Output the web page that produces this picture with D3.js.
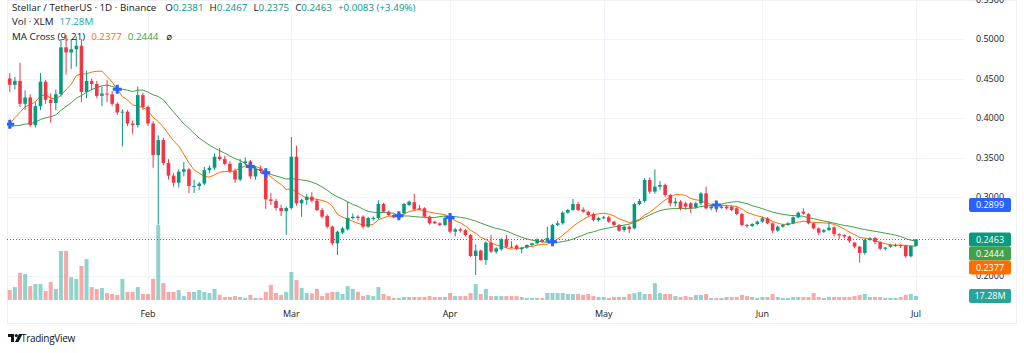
<!DOCTYPE html>
<html>
<head>
<meta charset="utf-8">
<script src="https://cdn.jsdelivr.net/npm/d3@7"></script>
<style>
  html, body { margin: 0; padding: 0; background: #fff; }
  svg { display: block; font-family: "Open Sans", "Noto Sans", sans-serif; }
</style>
</head>
<body>
<div id="chart"></div>
<script>
// XLM / USDT daily candles, 5 Jan - 1 Jul 2025
const firstDay = Date.UTC(2025, 0, 5);

const opens = [
  0.450, 0.442, 0.447, 0.418, 0.426, 0.391, 0.415, 0.446, 0.423, 0.419,
  0.430, 0.4895, 0.483, 0.487, 0.4915, 0.433, 0.447, 0.443, 0.428, 0.431,
  0.430, 0.418, 0.407, 0.408, 0.393, 0.391, 0.429, 0.414, 0.393, 0.353,
  0.372, 0.343, 0.327, 0.318, 0.332, 0.335, 0.314, 0.314, 0.317, 0.334,
  0.337, 0.351, 0.348, 0.342, 0.333, 0.322, 0.343, 0.345, 0.326, 0.336,
  0.333, 0.297, 0.295, 0.286, 0.282, 0.286, 0.351, 0.292, 0.2962, 0.3004,
  0.2954, 0.2835, 0.2759, 0.2624, 0.2414, 0.2549, 0.2591, 0.2734, 0.2751, 0.2751,
  0.2624, 0.2720, 0.2734, 0.2911, 0.2814, 0.2772, 0.2734, 0.2793, 0.2899, 0.2933,
  0.2857, 0.2857, 0.2751, 0.2688, 0.2667, 0.2646, 0.2760, 0.2561, 0.2591, 0.2580,
  0.2519, 0.2253, 0.2321, 0.2203, 0.2422, 0.2308, 0.2338, 0.2464, 0.2371, 0.2385,
  0.2340, 0.2358, 0.2392, 0.2414, 0.2456, 0.2435, 0.2448, 0.2646, 0.2667, 0.2802,
  0.2835, 0.2911, 0.2840, 0.2814, 0.2785, 0.2709, 0.2734, 0.2743, 0.2688, 0.2646,
  0.2582, 0.2624, 0.2603, 0.2911, 0.2949, 0.3215, 0.3068, 0.3131, 0.3152, 0.3025,
  0.2920, 0.2941, 0.2920, 0.2920, 0.2870, 0.2920, 0.3046, 0.2857, 0.2878, 0.2862,
  0.2878, 0.2878, 0.2857, 0.2785, 0.2646, 0.2633, 0.2658, 0.2688, 0.2730, 0.2667,
  0.2574, 0.2624, 0.2646, 0.2667, 0.2743, 0.2814, 0.2785, 0.2667, 0.2603, 0.2560,
  0.2582, 0.2616, 0.2530, 0.2519, 0.2500, 0.2422, 0.2371, 0.2292, 0.2456, 0.2481,
  0.2430, 0.2345, 0.2371, 0.2380, 0.2392, 0.2380, 0.2250, 0.2381
];

const highs = [
  0.457, 0.452, 0.470, 0.435, 0.430, 0.420, 0.457, 0.448, 0.431, 0.436,
  0.500, 0.505, 0.500, 0.503, 0.500, 0.460, 0.450, 0.447, 0.440, 0.448,
  0.434, 0.420, 0.411, 0.410, 0.397, 0.440, 0.432, 0.416, 0.396, 0.378,
  0.375, 0.348, 0.330, 0.335, 0.344, 0.337, 0.322, 0.319, 0.338, 0.340,
  0.355, 0.362, 0.352, 0.345, 0.336, 0.348, 0.350, 0.347, 0.339, 0.340,
  0.336, 0.305, 0.298, 0.290, 0.288, 0.376, 0.365, 0.298, 0.304, 0.306,
  0.298, 0.286, 0.278, 0.264, 0.2575, 0.2625, 0.2941, 0.2790, 0.2770, 0.2765,
  0.2750, 0.2755, 0.2960, 0.2925, 0.2830, 0.2785, 0.2805, 0.2925, 0.2955, 0.3040,
  0.2900, 0.2870, 0.2765, 0.2700, 0.2680, 0.2760, 0.2790, 0.2610, 0.2610, 0.2595,
  0.2530, 0.2400, 0.2335, 0.2440, 0.2520, 0.2365, 0.2480, 0.2520, 0.2440, 0.2400,
  0.2370, 0.2400, 0.2420, 0.2475, 0.2470, 0.2624, 0.2660, 0.2700, 0.2820, 0.2850,
  0.2975, 0.2940, 0.2870, 0.2830, 0.2800, 0.2750, 0.2760, 0.2760, 0.2700, 0.2660,
  0.2640, 0.2640, 0.2930, 0.2975, 0.3240, 0.3250, 0.3350, 0.3200, 0.3170, 0.3040,
  0.2990, 0.2960, 0.2940, 0.2935, 0.2940, 0.3060, 0.3131, 0.2900, 0.2920, 0.2900,
  0.2900, 0.2890, 0.2880, 0.2800, 0.2660, 0.2670, 0.2700, 0.2750, 0.2745, 0.2680,
  0.2640, 0.2660, 0.2680, 0.2755, 0.2815, 0.2857, 0.2795, 0.2680, 0.2615, 0.2595,
  0.2688, 0.2630, 0.2540, 0.2530, 0.2510, 0.2430, 0.2380, 0.2470, 0.2490, 0.2495,
  0.2440, 0.2370, 0.2400, 0.2410, 0.2400, 0.2395, 0.2390, 0.2467
];

const lows = [
  0.433, 0.436, 0.414, 0.410, 0.389, 0.388, 0.410, 0.418, 0.394, 0.410,
  0.427, 0.455, 0.462, 0.465, 0.420, 0.425, 0.435, 0.425, 0.415, 0.420,
  0.415, 0.404, 0.364, 0.390, 0.380, 0.388, 0.410, 0.390, 0.337, 0.265,
  0.340, 0.322, 0.313, 0.312, 0.326, 0.305, 0.305, 0.309, 0.315, 0.330,
  0.334, 0.346, 0.340, 0.330, 0.318, 0.320, 0.340, 0.323, 0.322, 0.330,
  0.285, 0.290, 0.283, 0.276, 0.252, 0.284, 0.289, 0.275, 0.290, 0.293,
  0.282, 0.273, 0.260, 0.239, 0.2266, 0.2530, 0.2575, 0.2715, 0.2700, 0.2600,
  0.2610, 0.2700, 0.2715, 0.2800, 0.2760, 0.2730, 0.2720, 0.2780, 0.2885, 0.2830,
  0.2830, 0.2740, 0.2650, 0.2655, 0.2630, 0.2630, 0.2540, 0.2500, 0.2550, 0.2500,
  0.2240, 0.2013, 0.2190, 0.2139, 0.2290, 0.2280, 0.2320, 0.2350, 0.2350, 0.2330,
  0.2285, 0.2345, 0.2380, 0.2400, 0.2420, 0.2420, 0.2430, 0.2630, 0.2650, 0.2790,
  0.2820, 0.2820, 0.2800, 0.2750, 0.2690, 0.2690, 0.2720, 0.2670, 0.2630, 0.2560,
  0.2560, 0.2540, 0.2590, 0.2895, 0.2930, 0.3040, 0.3040, 0.3090, 0.3000, 0.2880,
  0.2880, 0.2830, 0.2840, 0.2800, 0.2850, 0.2900, 0.2840, 0.2830, 0.2810, 0.2850,
  0.2840, 0.2820, 0.2770, 0.2630, 0.2610, 0.2620, 0.2640, 0.2675, 0.2655, 0.2540,
  0.2560, 0.2610, 0.2635, 0.2655, 0.2730, 0.2775, 0.2655, 0.2590, 0.2520, 0.2545,
  0.2570, 0.2500, 0.2470, 0.2475, 0.2420, 0.2350, 0.2169, 0.2270, 0.2445, 0.2400,
  0.2325, 0.2325, 0.2360, 0.2370, 0.2355, 0.2230, 0.2235, 0.2375
];

const closes = [
  0.442, 0.447, 0.418, 0.426, 0.391, 0.415, 0.446, 0.423, 0.419, 0.430,
  0.4895, 0.483, 0.487, 0.4915, 0.433, 0.447, 0.443, 0.428, 0.431, 0.430,
  0.418, 0.407, 0.408, 0.393, 0.391, 0.429, 0.414, 0.393, 0.353, 0.372,
  0.343, 0.327, 0.318, 0.332, 0.335, 0.314, 0.314, 0.317, 0.334, 0.337,
  0.351, 0.348, 0.342, 0.333, 0.322, 0.343, 0.345, 0.326, 0.336, 0.333,
  0.297, 0.295, 0.286, 0.282, 0.286, 0.351, 0.292, 0.2962, 0.3004, 0.2954,
  0.2835, 0.2751, 0.2624, 0.2414, 0.2561, 0.2603, 0.2734, 0.2751, 0.2734, 0.2624,
  0.2734, 0.2734, 0.2911, 0.2814, 0.2772, 0.2743, 0.2793, 0.2911, 0.2941, 0.2844,
  0.2850, 0.2751, 0.2667, 0.2667, 0.2646, 0.2734, 0.2561, 0.2591, 0.2574, 0.2519,
  0.2253, 0.2321, 0.2203, 0.2422, 0.2308, 0.2350, 0.2464, 0.2371, 0.2360, 0.2345,
  0.2358, 0.2392, 0.2414, 0.2464, 0.2435, 0.2480, 0.2646, 0.2667, 0.2802, 0.2835,
  0.2911, 0.2835, 0.2814, 0.2772, 0.2709, 0.2734, 0.2743, 0.2688, 0.2646, 0.2574,
  0.2624, 0.2591, 0.2911, 0.2949, 0.3215, 0.3068, 0.3131, 0.3152, 0.3025, 0.2920,
  0.2941, 0.2857, 0.2878, 0.2857, 0.2920, 0.3046, 0.2857, 0.2878, 0.2861, 0.2878,
  0.2857, 0.2835, 0.2785, 0.2646, 0.2640, 0.2658, 0.2688, 0.2730, 0.2667, 0.2574,
  0.2624, 0.2646, 0.2667, 0.2743, 0.2802, 0.2790, 0.2667, 0.2603, 0.2548, 0.2582,
  0.2612, 0.2530, 0.2515, 0.2500, 0.2445, 0.2372, 0.2292, 0.2456, 0.2477, 0.2430,
  0.2345, 0.2360, 0.2392, 0.2392, 0.2380, 0.2250, 0.2380, 0.2463
];

// volume, millions of XLM
const volumes = [
  43, 56, 117, 112, 60, 69, 69, 39, 78, 48,
  212, 212, 99, 91, 147, 177, 56, 48, 52, 30,
  26, 22, 91, 35, 35, 56, 26, 26, 91, 324,
  73, 35, 35, 43, 17, 35, 35, 43, 35, 30,
  48, 22, 13, 13, 17, 13, 9, 22, 9, 9,
  35, 65, 30, 22, 35, 121, 86, 52, 30, 28,
  48, 17, 30, 35, 35, 26, 60, 48, 35, 17,
  22, 17, 56, 26, 17, 9, 9, 13, 13, 13,
  13, 13, 17, 13, 13, 13, 30, 17, 17, 17,
  30, 69, 26, 48, 17, 17, 17, 17, 17, 17,
  13, 9, 9, 9, 9, 30, 30, 30, 30, 26,
  26, 26, 22, 26, 17, 13, 13, 9, 13, 13,
  13, 26, 30, 35, 26, 26, 73, 30, 26, 26,
  17, 13, 17, 13, 22, 22, 26, 9, 9, 9,
  13, 13, 13, 22, 17, 13, 9, 13, 13, 26,
  13, 9, 9, 13, 13, 13, 13, 30, 13, 9,
  13, 13, 13, 13, 13, 17, 22, 26, 13, 13,
  13, 9, 9, 9, 13, 22, 26, 17.28
];

// closes of the 21 days before the first visible candle, to warm up the averages
const priorCloses = [
  0.45, 0.40, 0.41, 0.39, 0.38, 0.38, 0.37, 0.38, 0.39, 0.38, 0.37,
  0.38, 0.39, 0.37, 0.36, 0.36, 0.37, 0.38, 0.38, 0.41, 0.456
];

const priceTicks = [0.20, 0.25, 0.30, 0.35, 0.40, 0.45, 0.50, 0.55];
const monthTicks = ["2025-02-01", "2025-03-01", "2025-04-01", "2025-05-01", "2025-06-01", "2025-07-01"];
const monthLabels = ["Feb", "Mar", "Apr", "May", "Jun", "Jul"];

const upColor = "#089981", downColor = "#F23645";
const upVol = "rgba(38,166,154,0.5)", downVol = "rgba(239,83,80,0.5)";
const fastColor = "#FF6D00", slowColor = "#43A047", crossColor = "#2962FF";

const W = 1024, H = 353;
const plotL = 7, plotR = 965, plotB = 302;

const svg = d3.select("#chart").append("svg")
  .attr("width", W).attr("height", H);

// build rows
const data = closes.map((c, i) => ({
  date: d3.utcDay.offset(new Date(firstDay), i),
  o: opens[i], h: highs[i], l: lows[i], c: c, v: volumes[i]
}));

// moving averages (simple), using the prior closes for the first days
const allCloses = priorCloses.concat(closes);
const off = priorCloses.length;
function sma(n, k) { // k = index into allCloses
  return d3.mean(allCloses.slice(k - n + 1, k + 1));
}
data.forEach((d, i) => {
  d.fast = sma(9, off + i);
  d.slow = sma(21, off + i);
});
const fastBefore = sma(9, off - 1), slowBefore = sma(21, off - 1);

// crosses
const crosses = [];
data.forEach((d, i) => {
  const pf = i === 0 ? fastBefore : data[i - 1].fast;
  const ps = i === 0 ? slowBefore : data[i - 1].slow;
  if (Math.sign(pf - ps) !== Math.sign(d.fast - d.slow)) crosses.push(d);
});

// scales
const x = d3.scaleUtc()
  .domain([new Date(monthTicks[0]), new Date(monthTicks[5])])
  .range([148, 916]);
const y = d3.scaleLinear().domain([0.2, 0.5]).range([276, 39]);
const yVol = d3.scaleLinear().domain([0, d3.max(volumes)]).range([300, 225]);

// container border
svg.append("rect")
  .attr("x", plotL + 0.5).attr("y", 0.5)
  .attr("width", 1016 - plotL).attr("height", 323)
  .attr("fill", "none").attr("stroke", "#eef0f3");

// grid
svg.append("g").selectAll("line")
  .data(priceTicks)
  .join("line")
  .attr("x1", plotL).attr("x2", plotR)
  .attr("y1", d => Math.round(y(d)) + 0.5).attr("y2", d => Math.round(y(d)) + 0.5)
  .attr("stroke", "#f0f3fa");
svg.append("g").selectAll("line")
  .data(monthTicks)
  .join("line")
  .attr("x1", d => Math.round(x(new Date(d))) + 0.5).attr("x2", d => Math.round(x(new Date(d))) + 0.5)
  .attr("y1", 0).attr("y2", plotB)
  .attr("stroke", "#f0f3fa");

const plot = svg.append("g");
svg.append("clipPath").attr("id", "clip")
  .append("rect").attr("x", plotL).attr("y", 0).attr("width", plotR - plotL).attr("height", plotB);
plot.attr("clip-path", "url(#clip)");

const bw = 3.6;

// volume
plot.append("g").selectAll("rect")
  .data(data)
  .join("rect")
  .attr("x", d => x(d.date) - 2)
  .attr("width", 4)
  .attr("y", d => yVol(d.v))
  .attr("height", d => 300 - yVol(d.v))
  .attr("fill", d => d.c >= d.o ? upVol : downVol);

// current price dotted line
const last = data[data.length - 1];
plot.append("line")
  .attr("x1", plotL).attr("x2", plotR)
  .attr("y1", Math.round(y(last.c)) + 0.5).attr("y2", Math.round(y(last.c)) + 0.5)
  .attr("stroke", upColor).attr("stroke-dasharray", "1,2");

// moving averages
const lineFast = d3.line().x(d => x(d.date)).y(d => y(d.fast));
const lineSlow = d3.line().x(d => x(d.date)).y(d => y(d.slow));
plot.append("path").datum(data).attr("d", lineSlow)
  .attr("fill", "none").attr("stroke", slowColor).attr("stroke-width", 1);
plot.append("path").datum(data).attr("d", lineFast)
  .attr("fill", "none").attr("stroke", fastColor).attr("stroke-width", 1);

// candles
const candles = plot.append("g").selectAll("g")
  .data(data)
  .join("g");
candles.append("line")
  .attr("x1", d => x(d.date)).attr("x2", d => x(d.date))
  .attr("y1", d => y(d.h)).attr("y2", d => y(d.l))
  .attr("stroke", d => d.c >= d.o ? upColor : downColor);
candles.append("rect")
  .attr("x", d => x(d.date) - bw / 2)
  .attr("width", bw)
  .attr("y", d => y(Math.max(d.o, d.c)))
  .attr("height", d => Math.max(1, Math.abs(y(d.o) - y(d.c))))
  .attr("fill", d => d.c >= d.o ? upColor : downColor);

// cross markers
plot.append("g").selectAll("path")
  .data(crosses)
  .join("path")
  .attr("transform", d => `translate(${x(d.date)},${y(d.fast)})`)
  .attr("d", "M-4.5,0H4.5M0,-4.5V4.5")
  .attr("stroke", crossColor).attr("stroke-width", 3);

// price axis
const fmt = d3.format(".4f");
svg.append("g").selectAll("text")
  .data(priceTicks)
  .join("text")
  .attr("x", 990).attr("y", d => y(d))
  .attr("dy", "0.35em")
  .attr("text-anchor", "middle")
  .attr("font-size", 9)
  .attr("fill", "#131722")
  .text(d => fmt(d));

// price labels, stacked so they don't overlap
const lastCross = crosses[crosses.length - 1];
const tags = [
  { v: lastCross.fast, bg: crossColor },
  { v: last.c, bg: upColor },
  { v: last.slow, bg: slowColor },
  { v: last.fast, bg: fastColor }
].map(t => ({ ...t, y: y(t.v) }));
tags.sort((a, b) => a.y - b.y);
for (let i = 1; i < tags.length; i++) {
  if (tags[i].y < tags[i - 1].y + 14) tags[i].y = tags[i - 1].y + 14;
}
tags.push({ v: last.v, bg: "#26a69a", y: yVol(last.v), vol: true });

const tagG = svg.append("g").selectAll("g")
  .data(tags)
  .join("g")
  .attr("transform", d => `translate(969,${d.y - 7})`);
tagG.append("rect")
  .attr("width", 42).attr("height", 14).attr("rx", 2)
  .attr("fill", d => d.bg);
tagG.append("text")
  .attr("x", 21).attr("y", 7).attr("dy", "0.35em")
  .attr("text-anchor", "middle")
  .attr("font-size", 9).attr("fill", "#fff")
  .text(d => d.vol ? d3.format(".2f")(d.v) + "M" : fmt(d.v));

// time axis
svg.append("g").selectAll("text")
  .data(monthTicks)
  .join("text")
  .attr("x", d => x(new Date(d)))
  .attr("y", 314).attr("dy", "0.35em")
  .attr("text-anchor", "middle")
  .attr("font-size", 9)
  .attr("fill", "#131722")
  .text((d, i) => monthLabels[i]);

// legend
const prevClose = data[data.length - 2].c;
const chg = last.c - prevClose;
const legend = svg.append("g").attr("font-size", 9.8).attr("fill", "#131722");
const r1 = legend.append("text").attr("x", 12).attr("y", 10.5);
r1.append("tspan").text("Stellar / TetherUS · 1D · Binance");
[["O", last.o], ["H", last.h], ["L", last.l], ["C", last.c]].forEach(([k, v], i) => {
  r1.append("tspan").attr("dx", i === 0 ? 9 : 6).text(k);
  r1.append("tspan").attr("fill", upColor).text(fmt(v));
});
r1.append("tspan").attr("dx", 6).attr("fill", upColor)
  .text(`+${fmt(chg)} (+${d3.format(".2f")(chg / prevClose * 100)}%)`);

const r2 = legend.append("text").attr("x", 12).attr("y", 25);
r2.append("tspan").text("Vol · XLM");
r2.append("tspan").attr("dx", 6).attr("fill", "#26a69a").text(d3.format(".2f")(last.v) + "M");

const r3 = legend.append("text").attr("x", 12).attr("y", 39.5);
r3.append("tspan").text("MA Cross (9, 21)");
r3.append("tspan").attr("dx", 6).attr("fill", fastColor).text(fmt(last.fast));
r3.append("tspan").attr("dx", 6).attr("fill", slowColor).text(fmt(last.slow));
r3.append("tspan").attr("dx", 8).text("ø");

// TradingView mark
const logo = svg.append("g").attr("transform", "translate(8,334)").attr("fill", "#131722");
logo.append("path").attr("d", "M0,0H6V8H3V3H0Z");
logo.append("circle").attr("cx", 8.3).attr("cy", 1.6).attr("r", 1.6);
logo.append("path").attr("d", "M11,0H14.5L10.5,8H7Z");
svg.append("text")
  .attr("x", 21).attr("y", 342)
  .attr("font-size", 10).attr("fill", "#131722")
  .attr("letter-spacing", -0.3)
  .text("TradingView");
</script>
</body>
</html>
